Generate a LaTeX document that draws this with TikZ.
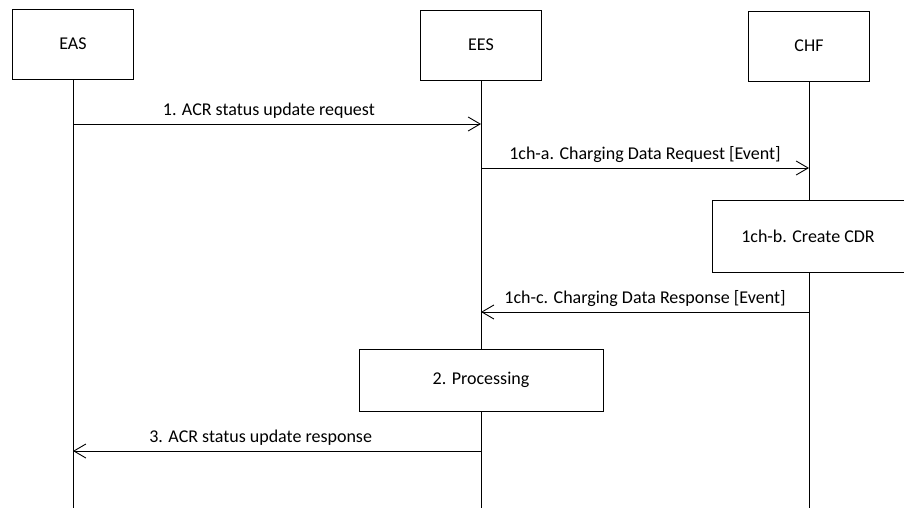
\documentclass[tikz,border=0pt]{standalone}
\usepackage{fontspec}
\setmainfont{Carlito}
\usetikzlibrary{arrows.meta,positioning}

\begin{document}
\begin{tikzpicture}[x=1pt,y=-1pt,->,>={Straight Barb[length=12pt,width=14pt]},
                line width=0.9pt,auto,font=\fontsize{18}{21}\selectfont,
                entity/.style={draw,fill=white,->,minimum width=121pt,minimum height=70pt,inner sep=0pt},
                action/.style={draw,fill=white,minimum height=71pt,inner sep=0pt},
                msg/.style={above=1.5pt}]
  \useasboundingbox (0,0) rectangle (904,508);

  % lifelines
  \coordinate (eas top) at (73,44);
  \coordinate (ees top) at (481,45);
  \coordinate (chf top) at (809,46);
  \coordinate (eas end) at (73,508);
  \coordinate (ees end) at (481,508);
  \coordinate (chf end) at (809,508);
  \draw[-] (eas top) -- (eas end);
  \draw[-] (ees top) -- (ees end);
  \draw[-] (chf top) -- (chf end);

  \node[entity] (eas) at (eas top) {EAS};
  \node[entity] (ees) at (ees top) {EES};
  \node[entity] (chf) at (chf top) {CHF};

  % messages
  \coordinate (m1a) at (73,124);   \coordinate (m1b) at (481,124);
  \coordinate (m2a) at (481,168);  \coordinate (m2b) at (809,168);
  \coordinate (m3a) at (809,312);  \coordinate (m3b) at (481,312);
  \coordinate (m4a) at (481,451);  \coordinate (m4b) at (73,451);

  \node[action,minimum width=192pt,minimum height=72pt] (cdr) at (808,236) {1ch-b. Create CDR};
  \node[action,minimum width=244pt,minimum height=62pt] (proc) at (481,380) {2. Processing};

  \path
    (m1a) edge node[msg,pos=0.48] {1. ACR status update request} (m1b)
    (m2a) edge node[msg] {1ch-a. Charging Data Request [Event]} (m2b)
    (m3a) edge node[msg,swap] {1ch-c. Charging Data Response [Event]} (m3b)
    (m4a) edge node[msg,swap,pos=0.54] {3. ACR status update response} (m4b)
  ;
\end{tikzpicture}
\end{document}
